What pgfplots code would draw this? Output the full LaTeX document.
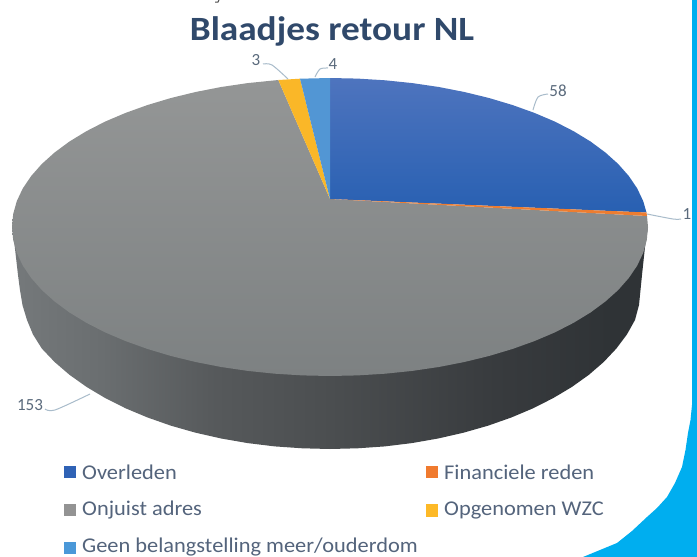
\documentclass[border=0pt]{standalone}
\usepackage{pgfplots}
\usepackage{graphicx}
\usepackage{fontspec}
\setmainfont{Carlito}
\pgfplotsset{compat=1.18}
\definecolor{wa}{HTML}{75797B}\definecolor{wb}{HTML}{6A6E70}\definecolor{wc}{HTML}{56595B}
\definecolor{wd}{HTML}{4B4E50}\definecolor{we}{HTML}{383B3E}\definecolor{wf}{HTML}{2F3336}
\definecolor{ttl}{HTML}{30496B}\definecolor{lab}{HTML}{5A6A7C}\definecolor{leg}{HTML}{54647C}
\definecolor{lead}{HTML}{A9BCCB}\definecolor{frame}{HTML}{00AEEF}
\pgfdeclarehorizontalshading{wall}{100bp}{color(0bp)=(wa); color(25bp)=(wa); color(32bp)=(wb); color(41bp)=(wc); color(50bp)=(wd); color(63bp)=(we); color(72bp)=(wf); color(75bp)=(wf); color(100bp)=(wf)}
\newcommand{\legtext}[1]{\scalebox{1.066}[1]{#1}}
\begin{document}
\begin{tikzpicture}
\begin{axis}[hide axis,scale only axis,width=697pt,height=557pt,xmin=0,xmax=697,ymin=0,ymax=557,y dir=reverse,clip=true]
% page background
\addplot[fill=white,draw=none] coordinates {(0,0)(697,0)(697,557)(0,557)} --cycle;
% frame
\addplot[fill=frame,draw=none] coordinates {(692,0)(692,405)(690.5,420)(688,433)(685.5,450)(682,467)(675,483)(667,497)(657,508)(647,517)(632,531)(617,543)(600,550)(583,557)(697,557)(697,0)} --cycle;
% wall
\addplot[shading=wall,draw=none] coordinates {(12.5,225)(14,240)(18,275)(20,290.2)(22.5,305.2)(27,320)(33,334.5)(41.8,348.5)(54.6,362)(69.5,374.8)(86.4,386.8)(105.1,398)(125.6,408.3)(147.6,417.5)(171,425.7)(195.6,432.7)(221.2,438.5)(247.7,443.1)(274.8,446.4)(302.3,448.3)(330,449)(357.6,448.3)(384.9,446.4)(411.8,443.1)(438.1,438.5)(463.5,432.7)(488,425.7)(511.3,417.5)(533.1,408.3)(553.4,398)(572.1,386.8)(588.9,374.8)(603.7,362)(616.4,348.5)(626.9,334.5)(635,320)(639,305)(640.5,290)(642,275)(645,247)(648,227)} --cycle;
% Onjuist adres 153
\addplot[draw=none,top color={rgb,255:red,148;green,150;blue,150},bottom color={rgb,255:red,125;green,129;blue,130}] coordinates {(330,199)(647,216)(648,227)(646.8,240)(643.2,252.9)(637.2,265.6)(628.8,278)(618.2,290)(605.4,301.5)(590.5,312.5)(573.6,322.8)(554.9,332.4)(534.4,341.1)(512.4,349)(489,356)(464.4,362)(438.8,367)(412.3,370.9)(385.2,373.7)(357.7,375.4)(330,376)(302.3,375.4)(274.8,373.7)(247.7,370.9)(221.2,367)(195.6,362)(171,356)(147.6,349)(125.6,341.1)(105.1,332.4)(86.4,322.8)(69.5,312.5)(54.6,301.5)(41.8,290)(31.2,278)(22.8,265.6)(16.8,252.9)(13.2,240)(12,227)(13.2,214)(16.8,201.1)(22.8,188.4)(31.2,176)(41.8,164)(54.6,152.5)(69.5,141.5)(86.4,131.2)(105.1,121.6)(125.6,112.9)(147.6,105)(171,98)(195.6,92)(221.2,87)(247.7,83.1)(278.3,80)} --cycle;
% Overleden 58
\addplot[draw=none,top color={rgb,255:red,78;green,116;blue,190},bottom color={rgb,255:red,40;green,96;blue,178}] coordinates {(330,199)(330,78)(357.7,78.6)(385.2,80.3)(412.3,83.1)(438.8,87)(464.4,92)(489,98)(512.4,105)(534.4,112.9)(554.9,121.6)(573.6,131.2)(590.5,141.5)(605.4,152.5)(618.2,164)(628.8,176)(637.2,188.4)(643.2,201.1)(646.5,212.5)} --cycle;
% Financiele reden 1
\addplot[fill={rgb,255:red,237;green,125;blue,49},draw=none] coordinates {(330,199)(646.5,212.5)(647,216)} --cycle;
% Opgenomen WZC 3
\addplot[fill={rgb,255:red,250;green,183;blue,40},draw=none] coordinates {(330,199)(278.3,80)(300,78.7)} --cycle;
% Geen belangstelling 4
\addplot[fill={rgb,255:red,82;green,150;blue,212},draw=none] coordinates {(330,199)(300,78.7)(330,78)} --cycle;
% leaders
\addplot[lead,line width=1pt,smooth] coordinates {(533,110)(538,97)(548,94)};
\addplot[lead,line width=1pt,smooth] coordinates {(647,214)(673,219)(681,219)};
\addplot[lead,line width=1pt,smooth] coordinates {(263,64)(272,65)(288,79)};
\addplot[lead,line width=1pt,smooth] coordinates {(315,77)(320,69)(328,68)};
\addplot[lead,line width=1pt,smooth] coordinates {(45,409)(55,410)(90,394)};
% legend swatches
\addplot[fill={rgb,255:red,47;green,98;blue,181},draw=none] coordinates {(64,466)(76,466)(76,478)(64,478)} --cycle;
\addplot[fill={rgb,255:red,147;green,147;blue,147},draw=none] coordinates {(64,504)(76,504)(76,516)(64,516)} --cycle;
\addplot[fill={rgb,255:red,74;green,152;blue,216},draw=none] coordinates {(64,542)(76,542)(76,554)(64,554)} --cycle;
\addplot[fill={rgb,255:red,240;green,122;blue,46},draw=none] coordinates {(426,466)(438,466)(438,478)(426,478)} --cycle;
\addplot[fill={rgb,255:red,253;green,185;blue,39},draw=none] coordinates {(426,504)(438,504)(438,517)(426,517)} --cycle;
% cropped text fragment at the top
\addplot[black!70,line width=1pt] coordinates {(215,2)(218,2)(219,0)};
% texts
\node[font=\bfseries\fontsize{34}{36}\selectfont,text=ttl] at (axis cs:332,31) {\scalebox{1.096}[1]{Blaadjes retour NL}};
\node[font=\fontsize{17}{19}\selectfont,text=lab] at (axis cs:558,91) {58};
\node[font=\fontsize{17}{19}\selectfont,text=lab] at (axis cs:687,214) {1};
\node[font=\fontsize{17}{19}\selectfont,text=lab] at (axis cs:256,60) {3};
\node[font=\fontsize{17}{19}\selectfont,text=lab] at (axis cs:333,64) {4};
\node[font=\fontsize{17}{19}\selectfont,text=lab] at (axis cs:30,405) {153};
\node[font=\fontsize{21}{24}\selectfont,text=leg,anchor=west,inner sep=0pt] at (axis cs:82,472) {\legtext{Overleden}};
\node[font=\fontsize{21}{24}\selectfont,text=leg,anchor=west,inner sep=0pt] at (axis cs:82,510) {\legtext{Onjuist adres}};
\node[font=\fontsize{21}{24}\selectfont,text=leg,anchor=west,inner sep=0pt] at (axis cs:82,547) {\legtext{Geen belangstelling meer/ouderdom}};
\node[font=\fontsize{21}{24}\selectfont,text=leg,anchor=west,inner sep=0pt] at (axis cs:444,472) {\legtext{Financiele reden}};
\node[font=\fontsize{21}{24}\selectfont,text=leg,anchor=west,inner sep=0pt] at (axis cs:444,510) {\legtext{Opgenomen WZC}};
\end{axis}
\end{tikzpicture}
\end{document}
